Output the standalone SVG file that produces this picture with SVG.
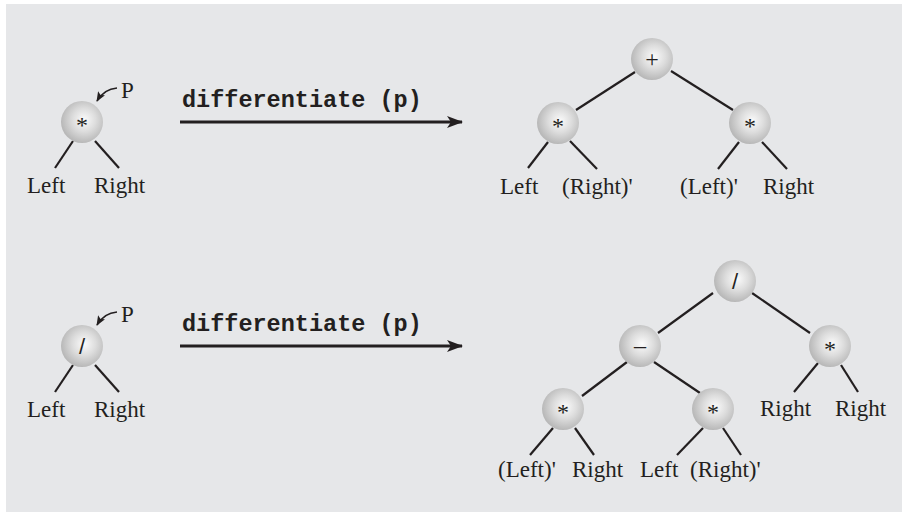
<svg xmlns="http://www.w3.org/2000/svg" width="902" height="513" viewBox="0 0 902 513">
<defs>
<radialGradient id="ball" cx="0.55" cy="0.45" r="0.55">
<stop offset="0" stop-color="#fbfbfb"/>
<stop offset="0.5" stop-color="#dddddd"/>
<stop offset="1" stop-color="#b8b8b8"/>
</radialGradient>
<marker id="big" markerWidth="16" markerHeight="12" refX="15" refY="6" orient="auto" markerUnits="userSpaceOnUse">
<path d="M0,0 L16,6 L0,12 L4,6 Z" fill="#231f20"/>
</marker>
<marker id="small" markerWidth="10" markerHeight="8" refX="9" refY="4" orient="auto" markerUnits="userSpaceOnUse">
<path d="M0,0 L10,4 L0,8 L2,4 Z" fill="#231f20"/>
</marker>
<style>
.n{fill:url(#ball);}
.e{stroke:#231f20;stroke-width:2.2;fill:none;}
.lbl{font-family:"Liberation Serif","Times New Roman",serif;font-size:23px;fill:#231f20;}
.op{font-family:"Liberation Serif","Times New Roman",serif;font-size:24px;fill:#231f20;text-anchor:middle;}
.sl{font-family:"Liberation Sans",Arial,sans-serif;font-size:22px;}
.code{font-family:"Liberation Mono","Courier New",monospace;font-weight:bold;font-size:23.5px;fill:#231f20;}
.arr{stroke:#231f20;stroke-width:3;fill:none;}
.ptr{stroke:#231f20;stroke-width:1.5;fill:none;}
</style>
</defs>
<rect x="6" y="4" width="896" height="508" fill="#e6e7e9"/>

<g id="connectors">
<line class="e" x1="73" y1="141" x2="55" y2="168"/>
<line class="e" x1="95" y1="141" x2="119" y2="168"/>
<path class="ptr" d="M117,88 Q104,89 97,101" marker-end="url(#small)"/>
<line class="arr" x1="180" y1="122" x2="462" y2="122" marker-end="url(#big)"/>
<line class="e" x1="635" y1="72" x2="576" y2="110"/>
<line class="e" x1="671" y1="71" x2="733" y2="110"/>
<line class="e" x1="548" y1="142" x2="528" y2="168"/>
<line class="e" x1="570" y1="141" x2="597" y2="169"/>
<line class="e" x1="739" y1="142" x2="718" y2="169"/>
<line class="e" x1="762" y1="142" x2="787" y2="169"/>
<line class="e" x1="73" y1="365" x2="55" y2="392"/>
<line class="e" x1="95" y1="365" x2="119" y2="392"/>
<path class="ptr" d="M117,312 Q104,313 97,325" marker-end="url(#small)"/>
<line class="arr" x1="180" y1="346" x2="462" y2="346" marker-end="url(#big)"/>
<line class="e" x1="713" y1="293" x2="658" y2="333"/>
<line class="e" x1="752" y1="293" x2="810" y2="333"/>
<line class="e" x1="627" y1="362" x2="582" y2="396"/>
<line class="e" x1="654" y1="362" x2="700" y2="393"/>
<line class="e" x1="818" y1="363" x2="794" y2="392"/>
<line class="e" x1="841" y1="365" x2="858" y2="392"/>
<line class="e" x1="553" y1="428" x2="530" y2="455"/>
<line class="e" x1="575" y1="428" x2="594" y2="455"/>
<line class="e" x1="703" y1="428" x2="677" y2="455"/>
<line class="e" x1="723" y1="428" x2="741" y2="455"/>
</g>

<g id="labels">
<text class="code" x="182" y="107">differentiate (p)</text>
<text class="code" x="182" y="331">differentiate (p)</text>
<text class="lbl" x="121" y="98">P</text>
<text class="lbl" x="121" y="322">P</text>
<text class="lbl" x="27" y="193">Left</text>
<text class="lbl" x="94" y="193">Right</text>
<text class="lbl" x="27" y="417">Left</text>
<text class="lbl" x="94" y="417">Right</text>
<text class="lbl" x="500" y="194">Left</text>
<text class="lbl" x="562" y="194">(Right)'</text>
<text class="lbl" x="680" y="194">(Left)'</text>
<text class="lbl" x="763" y="194">Right</text>
<text class="lbl" x="760" y="416">Right</text>
<text class="lbl" x="835" y="416">Right</text>
<text class="lbl" x="498" y="477">(Left)'</text>
<text class="lbl" x="572" y="477">Right</text>
<text class="lbl" x="640" y="477">Left</text>
<text class="lbl" x="690" y="477">(Right)'</text>
</g>

<g id="n-top-left"><circle class="n" cx="82" cy="122" r="21"/><text class="op" x="82" y="133">*</text></g>
<g id="n-plus"><circle class="n" cx="652" cy="59" r="21"/><text class="op" x="652" y="67" font-size="26">+</text></g>
<g id="n-tl-mul"><circle class="n" cx="558" cy="123" r="21"/><text class="op" x="558" y="134">*</text></g>
<g id="n-tr-mul"><circle class="n" cx="750" cy="123" r="21"/><text class="op" x="750" y="134">*</text></g>
<g id="n-bottom-left"><circle class="n" cx="82" cy="346" r="21"/><text class="op sl" x="82" y="354">/</text></g>
<g id="n-div"><circle class="n" cx="735" cy="281" r="21"/><text class="op sl" x="735" y="289">/</text></g>
<g id="n-minus"><circle class="n" cx="640" cy="346" r="21"/><text class="op" x="640" y="353">–</text></g>
<g id="n-br-mul"><circle class="n" cx="830" cy="346" r="21"/><text class="op" x="830" y="357">*</text></g>
<g id="n-bl-mul1"><circle class="n" cx="563" cy="409" r="21"/><text class="op" x="563" y="420">*</text></g>
<g id="n-bl-mul2"><circle class="n" cx="713" cy="409" r="21"/><text class="op" x="713" y="420">*</text></g>
</svg>
